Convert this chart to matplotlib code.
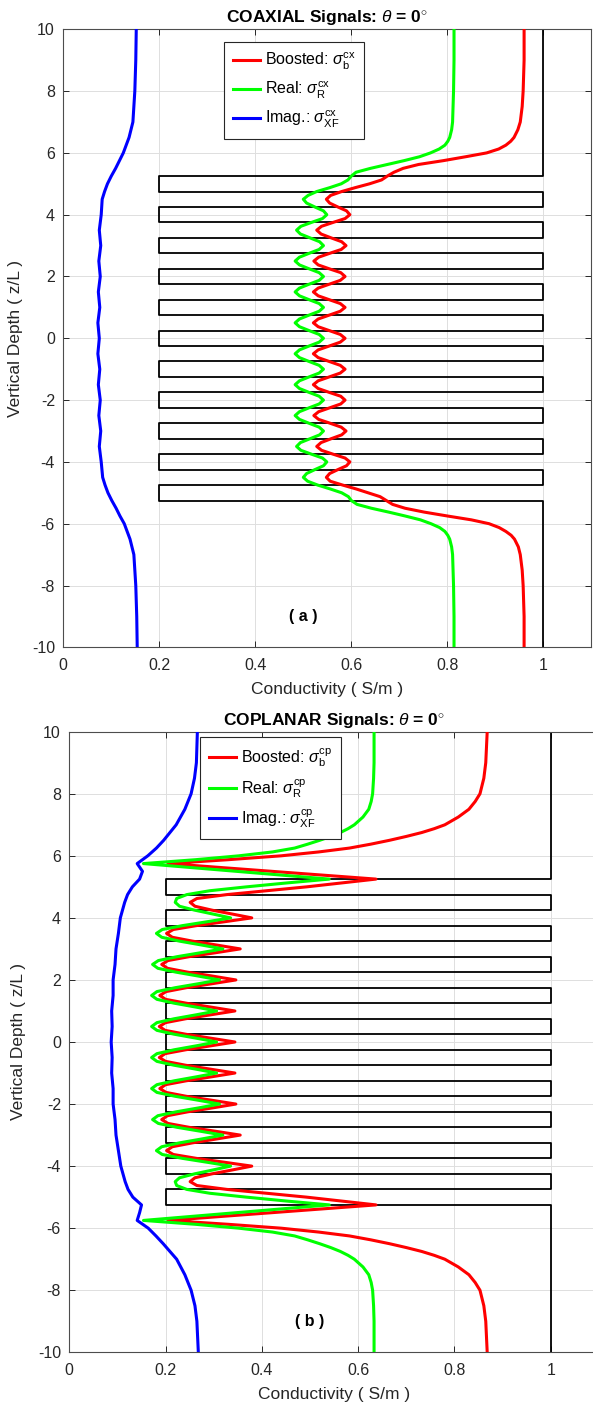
import numpy as np
import matplotlib
matplotlib.use("Agg")
import matplotlib.pyplot as plt

plt.rcParams['font.family'] = ['Liberation Sans', 'DejaVu Sans']
plt.rcParams['mathtext.fontset'] = 'custom'
plt.rcParams['mathtext.rm'] = 'Liberation Sans'
plt.rcParams['mathtext.it'] = 'Liberation Sans:italic'
plt.rcParams['mathtext.bf'] = 'Liberation Sans:bold'
plt.rcParams['axes.unicode_minus'] = False

# ---- modelo verdadero (capas) ----
bed_bounds = [10, 5.25, 4.75, 4.25, 3.75, 3.25, 2.75, 2.25, 1.75, 1.25, 0.75, 0.25,
              -0.25, -0.75, -1.25, -1.75, -2.25, -2.75, -3.25, -3.75, -4.25, -4.75, -5.25, -10]
bed_sigma = [1, 0.2, 1, 0.2, 1, 0.2, 1, 0.2, 1, 0.2, 1, 0.2,
             1, 0.2, 1, 0.2, 1, 0.2, 1, 0.2, 1, 0.2, 1]

# ---- (a) coaxial ----
depth_cx = [10, 9, 8, 7.5, 7, 6.75, 6.5, 6.375, 6.25, 6.125, 6, 5.875, 5.75, 5.625, 5.5, 5.375, 5.25, 5.125, 5, 4.875, 4.75, 4.625,
            4.5, 4.375, 4.25, 4.125, 4, 3.875, 3.75, 3.625, 3.5, 3.375, 3.25, 3.125, 3, 2.875, 2.75, 2.625,
            2.5, 2.375, 2.25, 2.125, 2, 1.875, 1.75, 1.625, 1.5, 1.375, 1.25, 1.125, 1, 0.875, 0.75, 0.625,
            0.5, 0.375, 0.25, 0.125, 0, -0.125, -0.25, -0.375, -0.5, -0.625, -0.75, -0.875, -1, -1.125, -1.25, -1.375,
            -1.5, -1.625, -1.75, -1.875, -2, -2.125, -2.25, -2.375, -2.5, -2.625, -2.75, -2.875, -3, -3.125, -3.25, -3.375,
            -3.5, -3.625, -3.75, -3.875, -4, -4.125, -4.25, -4.375, -4.5,
            -4.625, -4.75, -4.875, -5, -5.125, -5.25, -5.375, -5.5, -5.625, -5.75, -5.875, -6, -6.125, -6.25, -6.375, -6.5, -6.75, -7, -7.5, -8, -9, -10]
boost_cx = [0.960, 0.960, 0.958, 0.956, 0.952, 0.947, 0.939, 0.932, 0.922, 0.907, 0.882, 0.838, 0.792, 0.740, 0.708, 0.689, 0.675, 0.663, 0.638, 0.608, 0.580, 0.557,
            0.548, 0.555, 0.572, 0.590, 0.597, 0.587, 0.562, 0.538, 0.528, 0.537, 0.558, 0.580, 0.589, 0.579, 0.555, 0.532,
            0.522, 0.531, 0.554, 0.578, 0.587, 0.577, 0.554, 0.531, 0.521, 0.531, 0.554, 0.577, 0.587, 0.577, 0.554, 0.531,
            0.521, 0.531, 0.554, 0.577, 0.587, 0.577, 0.554, 0.531, 0.521, 0.531, 0.554, 0.577, 0.587, 0.577, 0.554, 0.531,
            0.521, 0.531, 0.554, 0.578, 0.587, 0.578, 0.555, 0.532, 0.522, 0.532, 0.556, 0.579, 0.589, 0.580, 0.558, 0.537,
            0.528, 0.538, 0.562, 0.587, 0.597, 0.590, 0.572, 0.555, 0.548,
            0.556, 0.582, 0.610, 0.635, 0.660, 0.673, 0.686, 0.712, 0.752, 0.800, 0.850, 0.887, 0.908, 0.922, 0.933, 0.940, 0.948, 0.952, 0.956, 0.958, 0.960, 0.960]
real_cx = [0.814, 0.814, 0.813, 0.812, 0.811, 0.809, 0.805, 0.801, 0.795, 0.783, 0.765, 0.742, 0.710, 0.675, 0.640, 0.610, 0.600, 0.593, 0.579, 0.555, 0.528, 0.510,
           0.500, 0.507, 0.524, 0.542, 0.549, 0.540, 0.517, 0.495, 0.486, 0.494, 0.514, 0.534, 0.542, 0.533, 0.512, 0.492,
           0.483, 0.492, 0.512, 0.533, 0.542, 0.533, 0.512, 0.492, 0.483, 0.492, 0.512, 0.533, 0.542, 0.533, 0.512, 0.492,
           0.483, 0.492, 0.512, 0.533, 0.542, 0.533, 0.512, 0.492, 0.483, 0.492, 0.512, 0.533, 0.542, 0.533, 0.512, 0.492,
           0.483, 0.492, 0.512, 0.533, 0.542, 0.533, 0.512, 0.492, 0.483, 0.492, 0.512, 0.533, 0.542, 0.534, 0.514, 0.494,
           0.486, 0.495, 0.517, 0.540, 0.549, 0.542, 0.524, 0.507, 0.500,
           0.509, 0.530, 0.556, 0.580, 0.594, 0.600, 0.612, 0.642, 0.678, 0.712, 0.744, 0.766, 0.784, 0.795, 0.801, 0.805, 0.809, 0.811, 0.812, 0.813, 0.814, 0.814]
depth_xf_cx = [10, 9, 8, 7, 6.5, 6, 5.75, 5.5, 5.25, 5, 4.75, 4.5, 4, 3.5, 3, 2.5, 2, 1.5, 1, 0.5, 0,
               -0.5, -1, -1.5, -2, -2.5, -3, -3.5, -4, -4.5, -4.75, -5, -5.25, -5.5, -5.75, -6, -6.5, -7, -8, -9, -10]
imag_cx = [0.152, 0.151, 0.149, 0.145, 0.137, 0.125, 0.117, 0.109, 0.100, 0.092, 0.086, 0.081, 0.079, 0.075, 0.078, 0.074, 0.077, 0.073, 0.076, 0.072, 0.075,
           0.072, 0.076, 0.073, 0.077, 0.074, 0.078, 0.075, 0.079, 0.082, 0.087, 0.093, 0.101, 0.110, 0.118, 0.127, 0.139, 0.147, 0.151, 0.153, 0.154]

# ---- (b) coplanar ----
depth_cp = [10, 9, 8.5, 8, 7.75, 7.5, 7.25, 7, 6.875, 6.75, 6.625, 6.5, 6.375, 6.25, 6.125, 6, 5.875, 5.75, 5.5, 5.25, 5.125, 5, 4.875, 4.75, 4.625,
            4.5, 4.375, 4.25, 4.125, 4, 3.875, 3.75, 3.625, 3.5, 3.375, 3.25, 3.125, 3, 2.875, 2.75, 2.625,
            2.5, 2.375, 2.25, 2.125, 2, 1.875, 1.75, 1.625, 1.5, 1.375, 1.25, 1.125, 1, 0.875, 0.75, 0.625,
            0.5, 0.375, 0.25, 0.125, 0, -0.125, -0.25, -0.375, -0.5, -0.625, -0.75, -0.875, -1, -1.125, -1.25, -1.375,
            -1.5, -1.625, -1.75, -1.875, -2, -2.125, -2.25, -2.375, -2.5, -2.625, -2.75, -2.875, -3, -3.125, -3.25, -3.375,
            -3.5, -3.625, -3.75, -3.875, -4, -4.125, -4.25, -4.375, -4.5,
            -4.625, -4.75, -4.875, -5, -5.125, -5.25, -5.5, -5.75, -5.875, -6, -6.125, -6.25, -6.375, -6.5, -6.625, -6.75, -6.875, -7,
            -7.25, -7.5, -7.75, -8, -8.5, -9, -10]
boost_cp = [0.868, 0.865, 0.861, 0.853, 0.843, 0.830, 0.808, 0.780, 0.758, 0.732, 0.700, 0.665, 0.626, 0.582, 0.518, 0.440, 0.330, 0.205, 0.421, 0.637, 0.565, 0.493, 0.410, 0.327, 0.265,
            0.251, 0.261, 0.296, 0.338, 0.379, 0.322, 0.264, 0.216, 0.202, 0.214, 0.256, 0.306, 0.355, 0.303, 0.249, 0.205,
            0.192, 0.204, 0.246, 0.297, 0.346, 0.295, 0.243, 0.201, 0.188, 0.200, 0.243, 0.294, 0.344, 0.293, 0.242, 0.200,
            0.187, 0.199, 0.242, 0.293, 0.344, 0.293, 0.242, 0.199, 0.187, 0.200, 0.242, 0.293, 0.344, 0.294, 0.243, 0.200,
            0.188, 0.201, 0.243, 0.295, 0.346, 0.297, 0.246, 0.204, 0.192, 0.205, 0.249, 0.303, 0.355, 0.306, 0.256, 0.214,
            0.202, 0.216, 0.264, 0.322, 0.379, 0.338, 0.296, 0.261, 0.251,
            0.265, 0.327, 0.410, 0.493, 0.565, 0.637, 0.421, 0.205, 0.330, 0.440, 0.518, 0.582, 0.626, 0.665, 0.700, 0.732, 0.758, 0.780,
            0.808, 0.830, 0.843, 0.853, 0.861, 0.865, 0.868]
real_cp = [0.633, 0.633, 0.632, 0.630, 0.627, 0.622, 0.610, 0.592, 0.579, 0.563, 0.543, 0.520, 0.495, 0.468, 0.422, 0.352, 0.262, 0.154, 0.347, 0.540, 0.451, 0.368, 0.292, 0.244, 0.223,
           0.220, 0.229, 0.260, 0.298, 0.335, 0.286, 0.235, 0.193, 0.181, 0.192, 0.229, 0.275, 0.319, 0.272, 0.224, 0.185,
           0.173, 0.184, 0.222, 0.268, 0.312, 0.267, 0.220, 0.182, 0.171, 0.182, 0.218, 0.263, 0.306, 0.263, 0.218, 0.182,
           0.171, 0.182, 0.218, 0.263, 0.306, 0.263, 0.218, 0.182, 0.171, 0.182, 0.218, 0.263, 0.306, 0.263, 0.218, 0.182,
           0.171, 0.182, 0.220, 0.267, 0.312, 0.268, 0.222, 0.184, 0.173, 0.185, 0.224, 0.272, 0.319, 0.275, 0.229, 0.192,
           0.181, 0.193, 0.235, 0.286, 0.335, 0.298, 0.260, 0.229, 0.220,
           0.223, 0.244, 0.292, 0.368, 0.451, 0.540, 0.347, 0.154, 0.262, 0.352, 0.422, 0.468, 0.495, 0.520, 0.543, 0.563, 0.579, 0.592,
           0.610, 0.622, 0.627, 0.630, 0.632, 0.633, 0.633]
depth_xf_cp = [10, 9, 8.5, 8, 7.5, 7, 6.5, 6.25, 6, 5.75, 5.5, 5.25, 5, 4.75, 4.5, 4, 3.5, 3, 2.5, 2, 1.5, 1, 0.5, 0,
               -0.5, -1, -1.5, -2, -2.5, -3, -3.5, -4, -4.5, -4.75, -5, -5.25, -5.5, -5.75, -6, -6.25, -6.5, -7, -7.5, -8, -8.5, -9, -10]
imag_cp = [0.266, 0.264, 0.260, 0.253, 0.240, 0.222, 0.196, 0.181, 0.163, 0.141, 0.152, 0.146, 0.131, 0.121, 0.115, 0.106, 0.102, 0.097, 0.095, 0.091, 0.091, 0.088, 0.089, 0.087,
           0.089, 0.088, 0.091, 0.091, 0.095, 0.097, 0.102, 0.107, 0.116, 0.122, 0.132, 0.150, 0.146, 0.141, 0.164, 0.180, 0.195, 0.223, 0.240, 0.253, 0.261, 0.265, 0.268]

xticks = [0, 0.2, 0.4, 0.6, 0.8, 1]
xtick_labels = ['0', '0.2', '0.4', '0.6', '0.8', '1']
yticks = [-10, -8, -6, -4, -2, 0, 2, 4, 6, 8, 10]

W, H = 593, 1408
fig = plt.figure(figsize=(W / 100, H / 100), dpi=100)
ax1 = fig.add_axes([63.3 / W, (H - 647.3) / H, 528 / W, 618 / H])
ax2 = fig.add_axes([69.3 / W, (H - 1352.3) / H, 529.6 / W, 620.6 / H])

gris = '#262626'


def panel(ax, depth, boost, real, depth_xf, imag, tag, titulo, letra, leg_pos, ylab_x):
    # perfil verdadero en escalones
    zs = np.repeat(bed_bounds, 2)[1:-1]
    xs = np.repeat(bed_sigma, 2)
    ax.plot(xs, zs, color='black', lw=1.3, zorder=2)
    ax.plot(boost, depth, color=(1, 0, 0), lw=2.2, zorder=3,
            label=r'Boosted: $\sigma_{\mathrm{b}}^{\mathrm{%s}}$' % tag)
    ax.plot(real, depth, color=(0, 1, 0), lw=2.2, zorder=3,
            label=r'Real: $\sigma_{\mathrm{R}}^{\mathrm{%s}}$' % tag)
    ax.plot(imag, depth_xf, color=(0, 0, 1), lw=2.2, zorder=3,
            label=r'Imag.: $\sigma_{\mathrm{XF}}^{\mathrm{%s}}$' % tag)

    ax.set_xlim(0, 1.1)
    ax.set_ylim(-10, 10)
    ax.set_xticks(xticks)
    ax.set_xticklabels(xtick_labels)
    ax.set_yticks(yticks)
    ax.grid(True, color='#dedede', lw=0.7)
    ax.set_axisbelow(True)
    ax.tick_params(direction='in', length=4, width=0.7, colors=gris, labelsize=11.5,
                   top=True, right=True, pad=6)
    ax.tick_params(axis='x', pad=8)
    for s in ax.spines.values():
        s.set_color('0.3')
        s.set_linewidth(0.8)

    ax.set_xlabel('Conductivity ( S/m )', fontsize=12.5, color=gris, labelpad=6)
    ax.set_ylabel('Vertical Depth ( z/L )', fontsize=12.5, color=gris)
    ax.yaxis.set_label_coords(ylab_x, 0.5)
    ax.set_title(titulo, fontsize=12.5, fontweight='bold', pad=5)
    ax.text(0.5, -9.0, letra, fontsize=11.5, fontweight='bold', ha='center', va='center')

    leg = ax.legend(loc='upper left', bbox_to_anchor=leg_pos, borderaxespad=0, fontsize=11.5,
                    frameon=True, fancybox=False, framealpha=1, edgecolor=gris,
                    handlelength=1.7, labelspacing=0.5, borderpad=0.55, handletextpad=0.3)
    leg.get_frame().set_linewidth(0.8)


panel(ax1, depth_cx, boost_cx, real_cx, depth_xf_cx, imag_cx, 'cx',
      r'COAXIAL Signals: $\theta$ = 0$^{\circ}$', '( a )', (0.304, 0.979), -0.077)
panel(ax2, depth_cp, boost_cp, real_cp, depth_xf_cp, imag_cp, 'cp',
      r'COPLANAR Signals: $\theta$ = 0$^{\circ}$', '( b )', (0.247, 0.991), -0.081)

fig.savefig('out.png', dpi=100)
